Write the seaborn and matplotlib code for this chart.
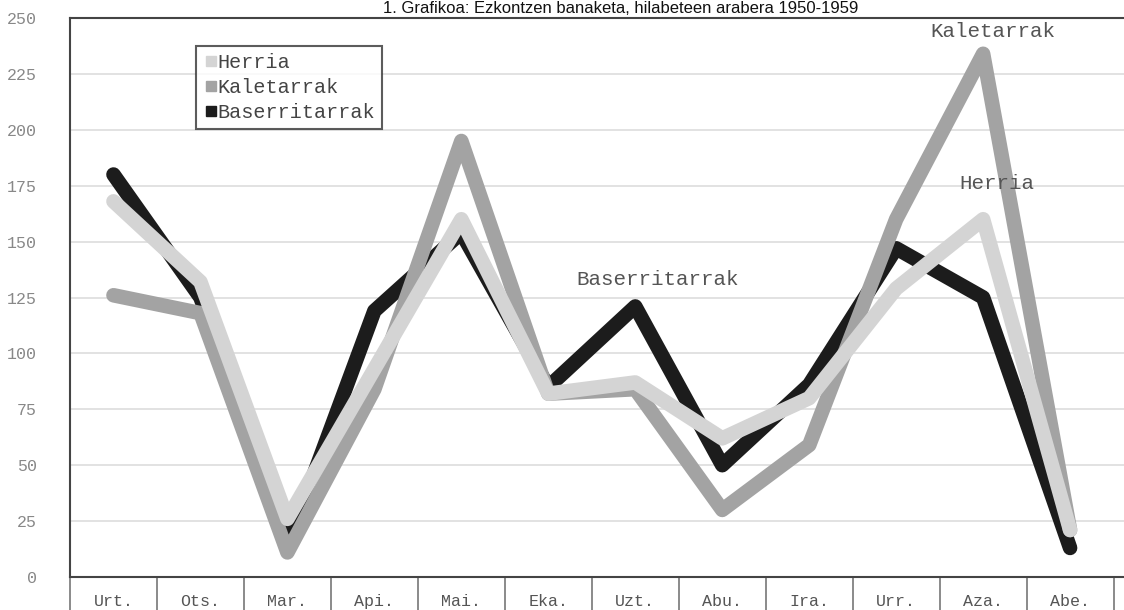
import pandas as pd
import matplotlib
matplotlib.use('Agg')
import matplotlib.pyplot as plt
from matplotlib.lines import Line2D
import seaborn as sns

months = ['Urt.', 'Ots.', 'Mar.', 'Api.', 'Mai.', 'Eka.',
          'Uzt.', 'Abu.', 'Ira.', 'Urr.', 'Aza.', 'Abe.']
herria = [168, 132, 26, 93, 160, 82, 87, 62, 80, 129, 160, 21]
kaletarrak = [126, 118, 11, 84, 195, 82, 84, 30, 59, 160, 234, 21]
baserritarrak = [180, 125, 14, 119, 154, 85, 121, 50, 86, 147, 125, 13]

series = ['Herria', 'Kaletarrak', 'Baserritarrak']
colors = {'Herria': '#d4d4d4', 'Kaletarrak': '#a3a3a3', 'Baserritarrak': '#1c1c1c'}

df = pd.DataFrame({
    'hilabetea': months * 3,
    'idx': list(range(12)) * 3,
    'balioa': herria + kaletarrak + baserritarrak,
    'taldea': ['Herria'] * 12 + ['Kaletarrak'] * 12 + ['Baserritarrak'] * 12,
})

sns.set_style('white')
mono = 'Liberation Mono'

fig = plt.figure(figsize=(11.24, 6.10), dpi=100)
ax = fig.add_axes([70 / 1124, 1 - 577 / 610, 1 - 70 / 1124, (577 - 18) / 610])

# black below, then mid gray, light gray on top
for z, name in enumerate(['Baserritarrak', 'Kaletarrak', 'Herria']):
    sub = df[df.taldea == name]
    sns.lineplot(data=sub, x='idx', y='balioa', ax=ax, color=colors[name],
                 linewidth=10.5, solid_capstyle='round', solid_joinstyle='round',
                 legend=False, zorder=3 + z)

ax.set_xlim(-0.5, 11.62)
ax.set_ylim(0, 250)
ax.set_yticks(range(0, 251, 25))
ax.set_xticks(range(12))
ax.set_xticklabels(months, fontfamily=mono, fontsize=12, color='#555555')
ax.set_xticks([i - 0.5 for i in range(13)], minor=True)
ax.tick_params(axis='x', which='major', bottom=True, length=0, pad=12)
ax.tick_params(axis='x', which='minor', bottom=True, length=33, width=1.2,
               color='#777777', direction='out')
ax.tick_params(axis='y', length=0, pad=24, labelsize=12, labelcolor='#888888')
for lab in ax.get_yticklabels():
    lab.set_fontfamily(mono)
ax.set_xlabel('')
ax.set_ylabel('')
ax.grid(axis='y', color='#dddddd', linewidth=1.2)
for s in ['left', 'bottom', 'top']:
    ax.spines[s].set_color('#444444')
    ax.spines[s].set_linewidth(1.5)
ax.spines['right'].set_visible(False)

# legend
handles = [Line2D([], [], marker='s', linestyle='', markersize=7,
                  color=colors[n]) for n in series]
leg = ax.legend(handles, series, loc='upper left', bbox_to_anchor=(0.12, 0.95),
                prop={'family': mono, 'size': 14.5}, handletextpad=0.0,
                handlelength=0.7, borderpad=0.35, labelspacing=0.3,
                borderaxespad=0, frameon=True, fancybox=False, edgecolor='#333333')
leg.get_frame().set_linewidth(1.5)
for t in leg.get_texts():
    t.set_color('#444444')

# series labels
ax.text(10.11, 244, 'Kaletarrak', ha='center', va='center', fontfamily=mono,
        fontsize=15, color='#555555', zorder=10)
ax.text(10.16, 176, 'Herria', ha='center', va='center', fontfamily=mono,
        fontsize=15, color='#555555', zorder=10)
ax.text(6.26, 133, 'Baserritarrak', ha='center', va='center', fontfamily=mono,
        fontsize=15, color='#555555', zorder=10)

fig.text(0.552, 1 - 1 / 610, '1. Grafikoa: Ezkontzen banaketa, hilabeteen arabera 1950-1959',
         ha='center', va='top', fontfamily='Liberation Sans', fontsize=12,
         color='#111111')

fig.savefig('out.png', dpi=100)
